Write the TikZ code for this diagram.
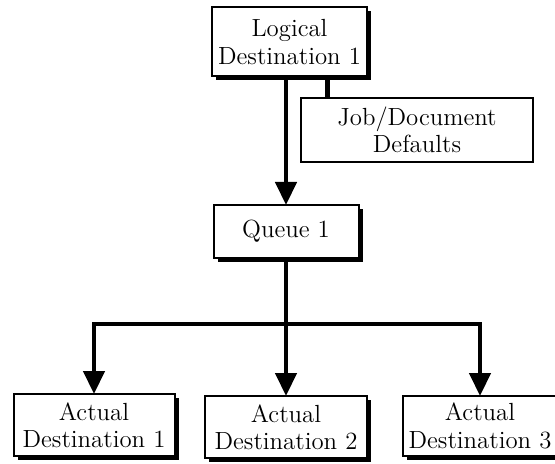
\documentclass[tikz,border=0pt]{standalone}
\usepackage{tikz}
\usetikzlibrary{positioning, arrows.meta, shadows}
\tikzset{
		plain box/.style={
			rectangle,
			draw=black,
			fill=white,
			line width=1pt,
			align=center,
			font=\fontsize{12.4}{13.6}\selectfont,
			inner sep=0pt,
			outer sep=0pt
		},
		dest box/.style={
			plain box,
			drop shadow={shadow xshift=2pt, shadow yshift=-2pt, opacity=1, fill=black}
		},
		flow line/.style={
			line width=2.2pt,
			line join=miter
		},
		flow arrow/.style={
			flow line,
			-{Triangle[width=10.5pt, length=11.5pt]}
		}
	}

\begin{document}
\begin{tikzpicture}[x=0.5pt, y=-0.5pt]
			\useasboundingbox (0,0) rectangle (555,464);
			% nodes
			\node (logical) [dest box, minimum width=77.5pt, minimum height=34.5pt] at (289.5,42)
				{Logical\\Destination 1};
			\node (defaults) [plain box, minimum width=116pt, minimum height=32pt] at (417,130)
				{Job/Document\\Defaults};
			\node (queue) [dest box, minimum width=72.5pt, minimum height=26.5pt] at (286,231.5)
				{Queue 1};
			\node (actual1) [dest box, minimum width=80.5pt, minimum height=31pt] at (94,425)
				{Actual\\Destination 1};
			\node (actual2) [dest box, minimum width=81pt, minimum height=31pt] at (286,427)
				{Actual\\Destination 2};
			\node (actual3) [dest box, minimum width=77pt, minimum height=30pt] at (480,426)
				{Actual\\Destination 3};
			\coordinate (bus) at (286,324);
			% connectors
			\draw [flow arrow] (logical.south -| queue.north) -- (queue.north);
			\draw [flow line] ([xshift=19pt]logical.south) -- ([xshift=19pt]logical.south |- defaults.north);
			\draw [flow line] (queue.south) -- (bus);
			\draw [flow arrow] (bus) -- (actual2.north);
			\draw [flow arrow] (bus) -| (actual1.north);
			\draw [flow arrow] (bus) -| (actual3.north);
\end{tikzpicture}
\end{document}
